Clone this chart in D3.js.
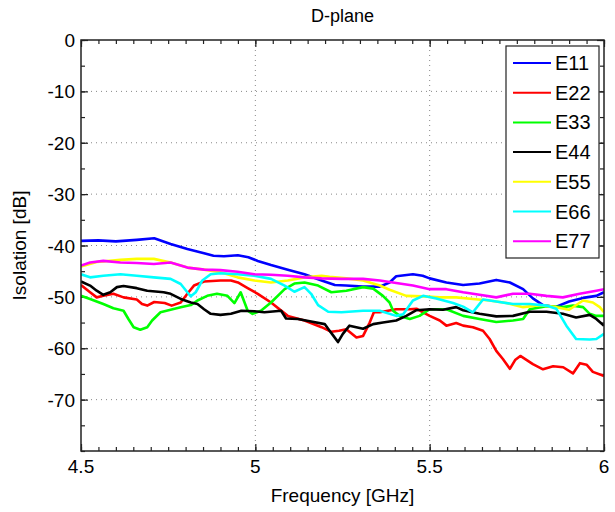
<!DOCTYPE html>
<html>
<head>
<meta charset="utf-8">
<script src="https://cdn.jsdelivr.net/npm/d3@7"></script>
<style>
  body { margin: 0; background: #fff; }
  text { font-family: "Liberation Sans", Arial, sans-serif; fill: #000; }
</style>
</head>
<body>
<div id="chart"></div>
<script>
var names = ["E11", "E22", "E33", "E44", "E55", "E66", "E77"];
var colors = ["#0000ff", "#ff0000", "#00ff00", "#000000", "#ffff00", "#00ffff", "#ff00ff"];

var e11 = [[4.5,-39.1],[4.55,-39.0],[4.6,-39.2],[4.66,-38.9],[4.71,-38.6],[4.757,-39.7],[4.805,-40.7],[4.853,-41.5],[4.88,-42],[4.91,-42.1],[4.95,-41.9],[4.98,-42.3],[5.007,-43],[5.045,-43.8],[5.093,-44.7],[5.141,-45.6],[5.19,-46.8],[5.228,-47.7],[5.26,-47.8],[5.309,-48],[5.357,-48],[5.385,-47.2],[5.404,-46],[5.452,-45.6],[5.48,-45.9],[5.5,-46.4],[5.548,-47.2],[5.596,-47.7],[5.643,-47.4],[5.691,-46.7],[5.73,-47.2],[5.768,-48.5],[5.796,-50.3],[5.825,-51.6],[5.86,-52],[5.9,-50.9],[5.94,-50.2],[5.978,-49.8],[6.0,-49.1]];
var e22 = [[4.5,-47.7],[4.526,-49.1],[4.545,-50.1],[4.564,-49.8],[4.593,-49.4],[4.622,-50.1],[4.66,-50.5],[4.675,-51.4],[4.69,-51.7],[4.71,-51],[4.74,-51.2],[4.76,-51.7],[4.786,-51.1],[4.805,-49.4],[4.824,-47.8],[4.853,-47],[4.9,-46.8],[4.93,-46.8],[4.95,-47.2],[4.978,-48.3],[5.007,-49.4],[5.045,-51.1],[5.093,-53.7],[5.141,-54.6],[5.19,-55.9],[5.218,-56.8],[5.24,-56.6],[5.261,-56.3],[5.29,-57.9],[5.309,-57.6],[5.328,-55],[5.34,-53],[5.357,-53],[5.404,-52.4],[5.443,-52.4],[5.462,-52.3],[5.481,-53],[5.5,-53.7],[5.529,-54.6],[5.548,-55.6],[5.576,-55.1],[5.596,-55.6],[5.624,-55.9],[5.653,-56.6],[5.672,-58.2],[5.691,-60.5],[5.71,-62.1],[5.73,-64],[5.745,-62.3],[5.76,-61.5],[5.796,-63.1],[5.825,-64.1],[5.854,-63.5],[5.883,-63.7],[5.911,-64.9],[5.931,-62.9],[5.95,-63.2],[5.968,-64.6],[6.0,-65.4]];
var e33 = [[4.5,-49.8],[4.526,-50.4],[4.564,-51.4],[4.593,-52.2],[4.622,-52.7],[4.636,-54.3],[4.651,-55.9],[4.67,-56.4],[4.69,-55.9],[4.704,-54.6],[4.728,-53],[4.757,-52.5],[4.786,-52],[4.815,-51.6],[4.834,-50.7],[4.862,-49.8],[4.89,-49.4],[4.92,-49.8],[4.94,-51.2],[4.958,-49.1],[4.978,-52.7],[4.992,-53.3],[5.016,-52.7],[5.045,-51.1],[5.084,-48.5],[5.112,-47.4],[5.141,-47.2],[5.18,-47.8],[5.218,-49.1],[5.261,-48.8],[5.309,-48.1],[5.338,-48.4],[5.366,-49.8],[5.385,-51.1],[5.395,-52.7],[5.414,-53.7],[5.443,-54.3],[5.471,-53.7],[5.5,-52.4],[5.548,-52.4],[5.596,-53.7],[5.643,-54.3],[5.691,-54.9],[5.739,-54.6],[5.768,-54.3],[5.787,-52.4],[5.835,-51.8],[5.882,-52],[5.911,-51.7],[5.94,-52],[5.959,-53.3],[5.978,-53.7],[6.0,-53.7]];
var e44 = [[4.5,-47],[4.526,-47.8],[4.545,-48.8],[4.564,-49.6],[4.584,-49.1],[4.603,-48.1],[4.622,-47.9],[4.66,-48.3],[4.69,-48.8],[4.737,-49.1],[4.757,-49.4],[4.786,-50.4],[4.815,-51.1],[4.834,-51.4],[4.853,-52.4],[4.872,-53.3],[4.9,-53.5],[4.93,-53.3],[4.96,-52.7],[4.997,-52.8],[5.026,-53],[5.074,-52.7],[5.088,-54.2],[5.122,-54.3],[5.16,-54.8],[5.199,-55.3],[5.213,-56.6],[5.223,-57.5],[5.237,-58.8],[5.251,-57.2],[5.27,-55.6],[5.309,-56.2],[5.338,-55.3],[5.366,-55],[5.404,-54.6],[5.433,-53.7],[5.462,-52.6],[5.5,-52.4],[5.538,-52.5],[5.576,-52],[5.596,-52.6],[5.643,-53.3],[5.691,-53.8],[5.739,-53.7],[5.787,-52.9],[5.835,-52.9],[5.882,-53.3],[5.92,-54],[5.959,-53.5],[5.978,-54.3],[6.0,-55.6]];
var e55 = [[4.5,-44.1],[4.545,-43.2],[4.613,-42.8],[4.66,-42.6],[4.709,-42.6],[4.757,-43.3],[4.805,-44.3],[4.853,-44.7],[4.9,-45.2],[4.949,-46.2],[4.997,-46.8],[5.045,-47.2],[5.093,-46.8],[5.141,-46.2],[5.19,-45.9],[5.213,-46.1],[5.261,-46.4],[5.309,-46.8],[5.357,-47.8],[5.385,-48.6],[5.433,-49.8],[5.481,-49.9],[5.529,-50.1],[5.576,-50.1],[5.624,-50.4],[5.672,-50.7],[5.72,-51.2],[5.768,-52],[5.816,-51.6],[5.863,-52],[5.9,-52.5],[5.94,-50.7],[5.968,-51.1],[5.988,-52],[6.0,-53]];
var e66 = [[4.5,-45.6],[4.526,-46.2],[4.564,-45.9],[4.613,-45.6],[4.66,-45.9],[4.709,-46.2],[4.757,-46.5],[4.786,-47.5],[4.805,-49.1],[4.815,-49.9],[4.829,-49.1],[4.848,-46.8],[4.872,-45.6],[4.9,-45.4],[4.949,-45.6],[4.997,-45.9],[5.045,-46.5],[5.084,-47.8],[5.112,-49],[5.141,-48.1],[5.16,-49.4],[5.18,-51.6],[5.209,-52.9],[5.247,-53],[5.309,-52.7],[5.357,-52.7],[5.404,-53.7],[5.424,-53.4],[5.452,-50.7],[5.481,-49.8],[5.519,-50.3],[5.567,-51.2],[5.596,-51.9],[5.624,-53],[5.653,-50.5],[5.691,-50.9],[5.739,-51.4],[5.787,-51.4],[5.835,-51.7],[5.863,-52.3],[5.892,-55.6],[5.92,-58.2],[5.959,-58.3],[5.978,-58.2],[6.0,-57.2]];
var e77 = [[4.5,-43.9],[4.526,-43.3],[4.564,-43],[4.613,-43.3],[4.66,-43.4],[4.709,-43.6],[4.757,-43.3],[4.805,-44.3],[4.853,-44.7],[4.9,-44.8],[4.949,-45.1],[4.997,-45.6],[5.045,-45.7],[5.093,-45.9],[5.141,-46.2],[5.19,-46.4],[5.247,-46.5],[5.309,-46.5],[5.357,-46.8],[5.404,-47.3],[5.452,-47.8],[5.5,-48.5],[5.548,-48.5],[5.596,-49.1],[5.643,-49.6],[5.691,-50.1],[5.739,-49.4],[5.787,-49.4],[5.835,-49.8],[5.882,-50.1],[5.93,-49.4],[5.978,-48.8],[6.0,-48.5]];

var xTicks = [4.5, 5, 5.5, 6];
var yTicks = [0, -10, -20, -30, -40, -50, -60, -70];

var series = [e11, e22, e33, e44, e55, e66, e77];

var width = 615, height = 512;
var pLeft = 81, pRight = 604, pTop = 40, pBottom = 451;

var x = d3.scaleLinear().domain([4.5, 6]).range([pLeft, pRight]);
var y = d3.scaleLinear().domain([-80, 0]).range([pBottom, pTop]);

var svg = d3.select('#chart').append('svg')
  .attr('width', width)
  .attr('height', height);

// dotted grid
var grid = svg.append('g').attr('stroke', '#888').attr('stroke-dasharray', '1,4').attr('stroke-width', 1);
xTicks.slice(1, -1).forEach(function(t) {
  grid.append('line').attr('x1', x(t)).attr('x2', x(t)).attr('y1', pTop).attr('y2', pBottom);
});
yTicks.slice(1).forEach(function(t) {
  grid.append('line').attr('x1', pLeft).attr('x2', pRight).attr('y1', y(t)).attr('y2', y(t));
});

// ticks inside on all four sides (matlab style)
var minorX = d3.range(0, 31).map(function(i) { return 4.5 + i * 0.05; });
var minorY = d3.range(0, 17).map(function(i) { return -80 + i * 5; });

var axisG = svg.append('g');
axisG.append('g').attr('transform', 'translate(0,' + pBottom + ')')
  .call(d3.axisTop(x).tickValues(minorX).tickSize(4).tickFormat(''));
axisG.append('g').attr('transform', 'translate(0,' + pTop + ')')
  .call(d3.axisBottom(x).tickValues(minorX).tickSize(4).tickFormat(''));
axisG.append('g').attr('transform', 'translate(' + pLeft + ',0)')
  .call(d3.axisRight(y).tickValues(minorY).tickSize(4).tickFormat(''));
axisG.append('g').attr('transform', 'translate(' + pRight + ',0)')
  .call(d3.axisLeft(y).tickValues(minorY).tickSize(4).tickFormat(''));
axisG.append('g').attr('transform', 'translate(0,' + pBottom + ')')
  .call(d3.axisTop(x).tickValues(xTicks).tickSize(7).tickFormat(''));
axisG.append('g').attr('transform', 'translate(0,' + pTop + ')')
  .call(d3.axisBottom(x).tickValues(xTicks).tickSize(7).tickFormat(''));
axisG.append('g').attr('transform', 'translate(' + pLeft + ',0)')
  .call(d3.axisRight(y).tickValues(yTicks).tickSize(7).tickFormat(''));
axisG.append('g').attr('transform', 'translate(' + pRight + ',0)')
  .call(d3.axisLeft(y).tickValues(yTicks).tickSize(7).tickFormat(''));
axisG.selectAll('.domain').remove();
axisG.selectAll('line').attr('stroke', '#222').attr('stroke-width', 1.2);

// curves
var line = d3.line()
  .x(function(d) { return x(d[0]); })
  .y(function(d) { return y(d[1]); });

svg.append('clipPath').attr('id', 'clip')
  .append('rect').attr('x', pLeft).attr('y', pTop).attr('width', pRight - pLeft).attr('height', pBottom - pTop);

svg.append('g').attr('clip-path', 'url(#clip)')
  .selectAll('path')
  .data(series)
  .enter()
  .append('path')
  .attr('d', line)
  .attr('fill', 'none')
  .attr('stroke', function(d, i) { return colors[i]; })
  .attr('stroke-width', 2.6)
  .attr('stroke-linejoin', 'round');

// frame
svg.append('rect')
  .attr('x', pLeft).attr('y', pTop)
  .attr('width', pRight - pLeft).attr('height', pBottom - pTop)
  .attr('fill', 'none').attr('stroke', '#222').attr('stroke-width', 1.5);

// tick labels
svg.selectAll('.xlab').data(xTicks).enter().append('text')
  .attr('x', function(d) { return x(d); })
  .attr('y', pBottom + 22)
  .attr('text-anchor', 'middle')
  .style('font-size', '19px')
  .text(function(d) { return d; });

svg.selectAll('.ylab').data(yTicks).enter().append('text')
  .attr('x', pLeft - 6)
  .attr('y', function(d) { return y(d) + 7; })
  .attr('text-anchor', 'end')
  .style('font-size', '19px')
  .text(function(d) { return d; });

svg.append('text')
  .attr('x', (pLeft + pRight) / 2).attr('y', 22)
  .attr('text-anchor', 'middle')
  .style('font-size', '18px')
  .text('D-plane');

svg.append('text')
  .attr('x', (pLeft + pRight) / 2).attr('y', 502)
  .attr('text-anchor', 'middle')
  .style('font-size', '19px')
  .text('Frequency [GHz]');

svg.append('text')
  .attr('transform', 'translate(26,' + ((pTop + pBottom) / 2) + ') rotate(-90)')
  .attr('text-anchor', 'middle')
  .style('font-size', '19px')
  .text('Isolation [dB]');

// legend
var legX = 506, legY = 46, legW = 93, legH = 212, rowH = 29.7;
svg.append('rect')
  .attr('x', legX).attr('y', legY).attr('width', legW).attr('height', legH)
  .attr('fill', '#fff').attr('stroke', '#222').attr('stroke-width', 1.2);

var legend = svg.selectAll('.legend')
  .data(names)
  .enter()
  .append('g')
  .attr('class', 'legend')
  .attr('transform', function(d, i) {
    return 'translate(' + legX + ',' + (legY + 17 + i * rowH) + ')';
  });

legend.append('line')
  .attr('x1', 7).attr('x2', 45)
  .attr('stroke', function(d, i) { return colors[i]; })
  .attr('stroke-width', 2);

legend.append('text')
  .attr('x', 49).attr('y', 7)
  .style('font-size', '20px')
  .text(function(d) { return d; });
</script>
</body>
</html>
